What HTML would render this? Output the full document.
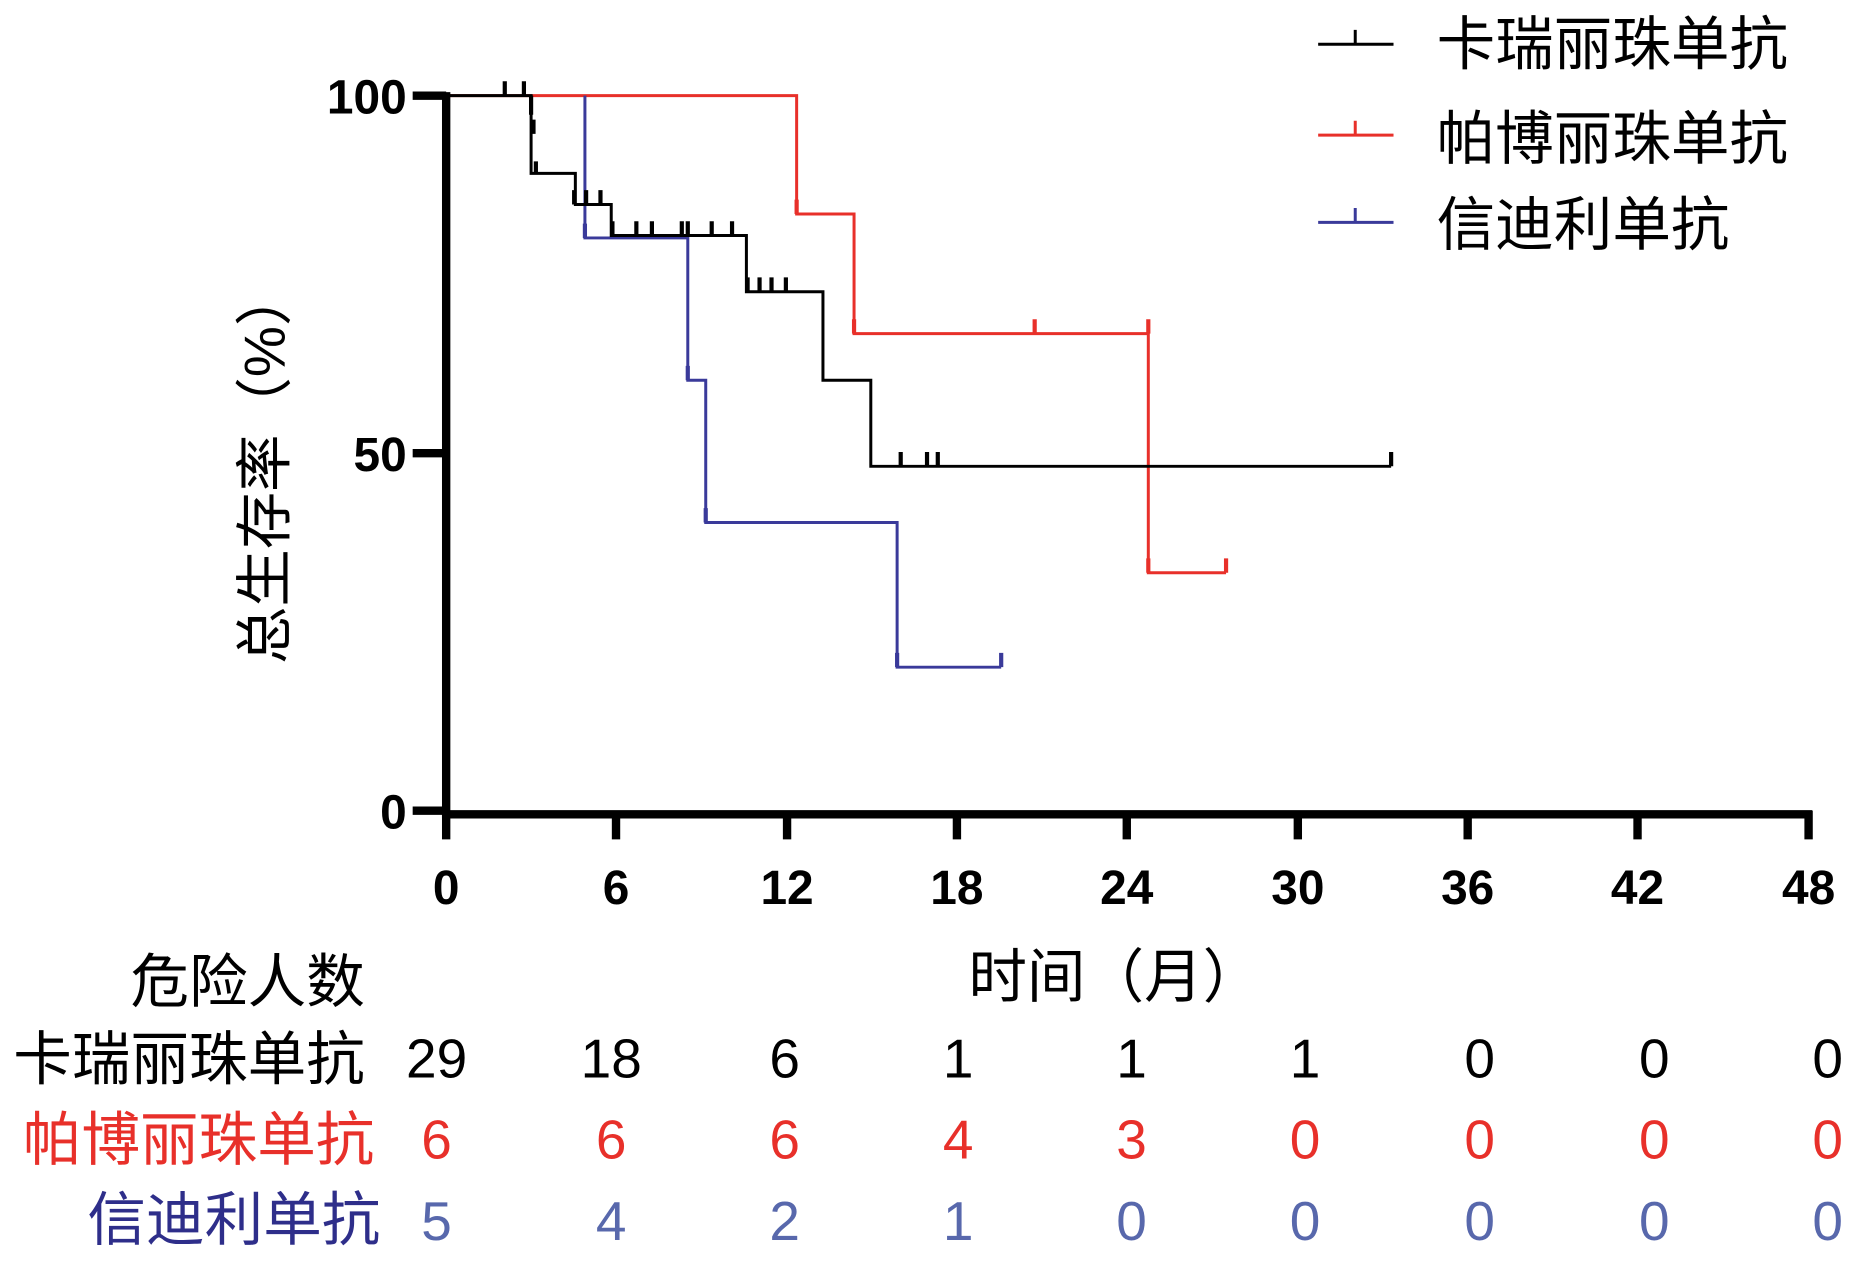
<!DOCTYPE html>
<html><head><meta charset="utf-8"><style>html,body{margin:0;padding:0;background:#fff}svg{display:block}</style></head><body>
<svg width="1866" height="1271" viewBox="0 0 1560 1063" preserveAspectRatio="none" xmlns="http://www.w3.org/2000/svg" font-family="Liberation Sans, Noto Sans CJK SC, sans-serif">
<g fill="none" stroke-width="2.5">
<polyline stroke="#e8302a" points="373,80 666,80 666,179 714,179 714,279 960,279 960,479 1025,479"/>
<polyline stroke="#3a3a9a" points="489,80 489,199 575,199 575,318 590,318 590,437 750,437 750,558 837,558"/>
<polyline stroke="#000" points="373,80 444,80 444,145 481,145 481,171 511,171 511,197 624,197 624,244 688,244 688,318 728,318 728,390 1163,390"/>
</g>
<g stroke-width="3.5">
<g stroke="#000">
<path d="M422,80v-12M438,80v-12M444,80v16M446,100v12M448,135v10M480,171v-12M490,171v-12M502,171v-12M512,197v-12M532,197v-12M545,197v-12M570,197v-12M575,197v-12M595,197v-12M612,197v-12M625,244v-12M635,244v-12M645,244v-12M657,244v-12M753,390v-12M775,390v-12M784,390v-12M1163,390v-12"/>
</g>
<path stroke="#e8302a" d="M666,179v-12M714,279v-12M865,279v-12M960,279v-12M960,479v-12M1025,479v-12"/>
<path stroke="#3a3a9a" d="M489,199v-12M575,318v-12M590,437v-12M750,558v-12M837,558v-12"/>
</g>
<g stroke="#000" stroke-width="7" fill="none">
<path d="M373,77V681H1515"/>
<path d="M345,80H373M345,379H373M345,678H373"/>
<path d="M373,678v24M515,678v24M658,678v24M800,678v24M942,678v24M1085,678v24M1227,678v24M1369,678v24M1512,678v24"/>
</g>
<g font-weight="bold" font-size="40" text-anchor="end" fill="#000">
<text x="340" y="95">100</text><text x="340" y="394">50</text><text x="340" y="693">0</text>
</g>
<g font-weight="bold" font-size="40" text-anchor="middle" fill="#000">
<text x="373" y="756">0</text><text x="515" y="756">6</text><text x="658" y="756">12</text><text x="800" y="756">18</text><text x="942" y="756">24</text><text x="1085" y="756">30</text><text x="1227" y="756">36</text><text x="1369" y="756">42</text><text x="1512" y="756">48</text>
</g>
<text transform="translate(238,390) rotate(-90)" text-anchor="middle" font-size="48" fill="#000">总生存率（%）</text>
<g stroke-width="2.5"><path stroke="#000" d="M1102,37H1165M1133,37v-12"/><path stroke="#e8302a" d="M1102,113H1165M1133,113v-12"/><path stroke="#3a3a9a" d="M1102,186H1165M1133,186v-12"/></g>
<g font-size="49" fill="#000"><text x="1201" y="54">卡瑞丽珠单抗</text><text x="1201" y="133">帕博丽珠单抗</text><text x="1201" y="205">信迪利单抗</text></g>
<g font-size="49" text-anchor="end"><text x="305" y="838" fill="#000">危险人数</text><text x="305" y="903" fill="#000">卡瑞丽珠单抗</text><text x="313" y="970" fill="#e8302a">帕博丽珠单抗</text><text x="318" y="1037" fill="#2e2e8a">信迪利单抗</text></g>
<text x="932" y="834" font-size="49" text-anchor="middle" fill="#000">时间（月）</text>
<g font-size="46" text-anchor="middle" fill="#000"><text x="365" y="901">29</text><text x="511" y="901">18</text><text x="656" y="901">6</text><text x="801" y="901">1</text><text x="946" y="901">1</text><text x="1091" y="901">1</text><text x="1237" y="901">0</text><text x="1383" y="901">0</text><text x="1528" y="901">0</text></g>
<g font-size="46" text-anchor="middle" fill="#e8302a"><text x="365" y="969">6</text><text x="511" y="969">6</text><text x="656" y="969">6</text><text x="801" y="969">4</text><text x="946" y="969">3</text><text x="1091" y="969">0</text><text x="1237" y="969">0</text><text x="1383" y="969">0</text><text x="1528" y="969">0</text></g>
<g font-size="46" text-anchor="middle" fill="#5868ac"><text x="365" y="1037">5</text><text x="511" y="1037">4</text><text x="656" y="1037">2</text><text x="801" y="1037">1</text><text x="946" y="1037">0</text><text x="1091" y="1037">0</text><text x="1237" y="1037">0</text><text x="1383" y="1037">0</text><text x="1528" y="1037">0</text></g>
</svg>
</body></html>
